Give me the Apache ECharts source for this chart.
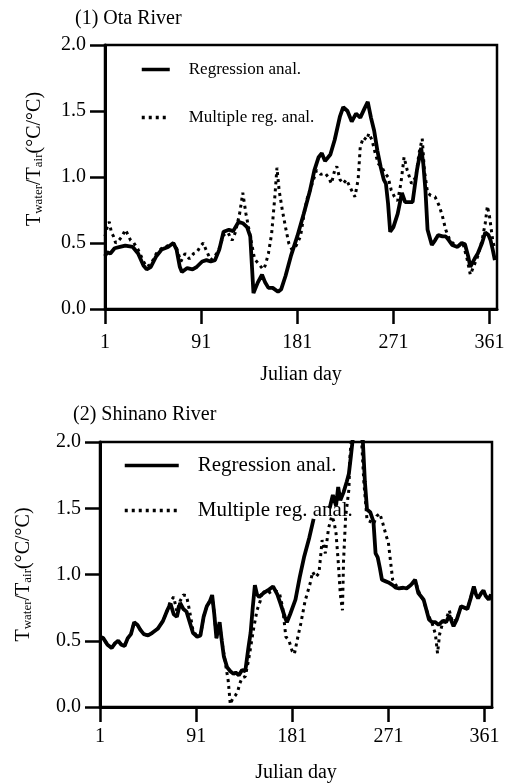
<!DOCTYPE html>
<html>
<head>
<meta charset="utf-8">
<script src="https://cdn.jsdelivr.net/npm/echarts@6/dist/echarts.min.js"></script>
<style>
  html, body { margin: 0; padding: 0; background: #fff; }
  #chart { width: 506px; height: 783px; }
</style>
</head>
<body>
<div id="chart"></div>
<script>
// tick labels
var dayTicks = [1, 91, 181, 271, 361];

// (1) Ota River - regression analysis
var otaRegDays = [1, 3, 6, 10, 15, 20, 27, 32, 37, 40, 44, 49, 54, 60, 65, 68, 71, 73, 78, 83, 87, 92, 96, 100, 104, 108, 112, 117, 121, 126, 130, 134, 137, 140, 144, 148, 151, 154, 158, 163, 166, 170, 175, 181, 187, 193, 197, 201, 204, 207, 212, 216, 221, 224, 228, 232, 236, 240, 244, 247, 250, 253, 256, 259, 262, 264, 266, 268, 271, 275, 279, 282, 286, 289, 293, 297, 299, 301, 303, 307, 310, 313, 317, 320, 323, 326, 331, 335, 338, 341, 343, 347, 350, 354, 357, 360, 362, 364, 366];
var otaRegValues = [0.40, 0.43, 0.42, 0.46, 0.47, 0.48, 0.47, 0.42, 0.33, 0.30, 0.32, 0.40, 0.45, 0.47, 0.50, 0.45, 0.32, 0.28, 0.31, 0.30, 0.32, 0.36, 0.37, 0.36, 0.37, 0.45, 0.585, 0.60, 0.59, 0.66, 0.65, 0.62, 0.55, 0.12, 0.20, 0.26, 0.20, 0.16, 0.16, 0.13, 0.15, 0.25, 0.40, 0.55, 0.72, 0.90, 1.05, 1.15, 1.18, 1.12, 1.17, 1.28, 1.46, 1.53, 1.50, 1.42, 1.48, 1.45, 1.52, 1.57, 1.45, 1.35, 1.20, 1.08, 0.98, 0.95, 0.80, 0.585, 0.62, 0.72, 0.88, 0.81, 0.81, 0.81, 1.05, 1.22, 1.10, 0.90, 0.60, 0.485, 0.52, 0.56, 0.55, 0.55, 0.52, 0.485, 0.47, 0.50, 0.49, 0.40, 0.32, 0.38, 0.42, 0.50, 0.58, 0.56, 0.52, 0.45, 0.37];

// (1) Ota River - multiple regression analysis
var otaMultiDays = [1, 3, 5, 7, 9, 11, 14, 17, 20, 22, 25, 28, 32, 37, 40, 44, 49, 54, 60, 65, 68, 72, 76, 80, 84, 87, 90, 93, 96, 100, 104, 108, 112, 116, 120, 123, 127, 130, 133, 137, 141, 145, 149, 151, 154, 157, 160, 162, 164, 167, 170, 173, 176, 180, 184, 187, 190, 195, 199, 203, 207, 210, 213, 216, 218, 221, 224, 227, 230, 233, 235, 238, 240, 243, 246, 248, 251, 254, 257, 260, 263, 266, 269, 272, 275, 278, 281, 284, 288, 292, 295, 298, 300, 303, 306, 310, 314, 317, 320, 324, 328, 332, 336, 340, 343, 346, 350, 354, 357, 359, 361, 364, 366];
var otaMultiValues = [0.55, 0.62, 0.66, 0.58, 0.55, 0.50, 0.52, 0.55, 0.60, 0.57, 0.52, 0.50, 0.45, 0.36, 0.32, 0.34, 0.42, 0.46, 0.48, 0.50, 0.46, 0.36, 0.42, 0.38, 0.42, 0.43, 0.47, 0.50, 0.44, 0.37, 0.40, 0.46, 0.56, 0.58, 0.52, 0.58, 0.72, 0.88, 0.72, 0.55, 0.38, 0.34, 0.30, 0.33, 0.42, 0.57, 0.85, 1.07, 0.90, 0.75, 0.62, 0.50, 0.45, 0.48, 0.55, 0.70, 0.83, 0.95, 1.05, 1.02, 1.03, 1.00, 0.95, 1.05, 1.08, 0.98, 0.95, 0.98, 0.93, 0.88, 0.85, 0.98, 1.23, 1.30, 1.28, 1.33, 1.28, 1.18, 1.10, 1.08, 1.03, 1.00, 0.90, 0.85, 0.82, 0.95, 1.15, 1.05, 0.95, 1.00, 1.18, 1.29, 1.05, 0.88, 0.86, 0.85, 0.78, 0.70, 0.60, 0.52, 0.49, 0.48, 0.50, 0.38, 0.26, 0.32, 0.40, 0.52, 0.65, 0.78, 0.70, 0.52, 0.45];

// (2) Shinano River - regression analysis (null = break in the drawn line)
var shinanoRegDays = [1, 4, 8, 12, 15, 18, 21, 24, 27, 30, 33, 36, 39, 42, 46, 50, 55, 60, 64, 67, 70, 73, 76, 79, 82, 85, 88, 92, 95, 98, 101, 104, 106, 108, 110, 112, 113, 115, 117, 120, 123, 126, 128, 131, 134, 137, 140, 142, 144, 146, 148, 150, 154, 158, 163, 167, 170, 174, 176, 179, 184, 188, 192, 197, 201, 208, 216, 219, 222, 224, 226, 229, 232, 234, 236, 238, 241, 244, 247, 249, 251, 254, 257, 259, 261, 263, 265, 268, 271, 275, 278, 281, 285, 288, 292, 296, 299, 302, 304, 307, 309, 312, 315, 318, 322, 325, 328, 332, 335, 339, 342, 345, 348, 351, 353, 355, 358, 360, 362, 365, 367];
var shinanoRegValues = [0.53, 0.52, 0.47, 0.445, 0.48, 0.50, 0.47, 0.46, 0.52, 0.55, 0.64, 0.62, 0.58, 0.55, 0.54, 0.56, 0.59, 0.65, 0.73, 0.78, 0.70, 0.68, 0.785, 0.74, 0.72, 0.64, 0.56, 0.53, 0.54, 0.68, 0.76, 0.80, 0.845, 0.70, 0.52, 0.60, 0.64, 0.50, 0.38, 0.30, 0.27, 0.25, 0.26, 0.24, 0.28, 0.27, 0.45, 0.56, 0.75, 0.92, 0.85, 0.83, 0.86, 0.88, 0.91, 0.85, 0.78, 0.68, 0.64, 0.70, 0.81, 0.98, 1.13, 1.28, 1.42, null, 1.50, 1.60, 1.52, 1.66, 1.56, 1.62, 1.70, 1.76, 1.90, 2.05, 2.30, 2.20, 2.02, 1.70, 1.49, 1.47, 1.40, 1.16, 1.13, 1.05, 0.96, 0.95, 0.94, 0.92, 0.90, 0.895, 0.90, 0.895, 0.92, 0.96, 0.86, 0.83, 0.81, 0.72, 0.66, 0.64, 0.64, 0.62, 0.65, 0.64, 0.69, 0.61, 0.66, 0.76, 0.75, 0.74, 0.82, 0.91, 0.85, 0.82, 0.86, 0.88, 0.84, 0.81, 0.85];

// (2) Shinano River - multiple regression analysis
var shinanoMultiDays = [1, 4, 8, 12, 15, 18, 21, 24, 27, 30, 33, 36, 39, 42, 46, 50, 55, 60, 64, 67, 70, 73, 76, 79, 82, 85, 88, 92, 95, 98, 101, 104, 106, 108, 110, 113, 116, 119, 121, 123, 125, 128, 130, 132, 134, 137, 140, 142, 145, 148, 151, 153, 157, 161, 165, 169, 172, 175, 178, 181, 183, 186, 189, 193, 198, 200, 203, 206, 209, 212, 215, 218, 220, 222, 224, 226, 228, 229, 231, 234, 235, 237, 240, 243, 246, 248, 251, 254, 257, 260, 263, 266, 269, 271, 273, 275, 278, 281, 285, 288, 292, 296, 300, 304, 308, 312, 315, 317, 319, 322, 325, 328, 331, 335, 339, 342, 345, 348, 351, 353, 355, 358, 360, 362, 365, 367];
var shinanoMultiValues = [0.53, 0.52, 0.47, 0.445, 0.48, 0.50, 0.47, 0.46, 0.52, 0.55, 0.64, 0.62, 0.58, 0.55, 0.54, 0.56, 0.59, 0.65, 0.73, 0.80, 0.83, 0.72, 0.80, 0.845, 0.84, 0.72, 0.58, 0.53, 0.54, 0.68, 0.76, 0.80, 0.84, 0.70, 0.52, 0.62, 0.45, 0.30, 0.20, 0.02, 0.06, 0.09, 0.12, 0.18, 0.22, 0.23, 0.35, 0.45, 0.60, 0.73, 0.80, 0.88, 0.85, 0.87, 0.88, 0.86, 0.75, 0.53, 0.50, 0.42, 0.40, 0.52, 0.63, 0.80, 0.94, 1.02, 0.98, 1.01, 1.26, 1.16, 1.35, 1.44, 1.40, 1.31, 1.10, 0.85, 0.73, 1.10, 1.44, 1.64, 1.89, 2.10, 2.40, 2.30, 2.00, 1.70, 1.41, 1.40, 1.38, 1.44, 1.46, 1.38, 1.29, 1.24, 1.10, 0.96, 0.92, 0.895, 0.90, 0.895, 0.92, 0.95, 0.86, 0.80, 0.70, 0.63, 0.55, 0.405, 0.55, 0.64, 0.66, 0.73, 0.64, 0.66, 0.76, 0.75, 0.74, 0.82, 0.91, 0.85, 0.82, 0.86, 0.88, 0.84, 0.81, 0.85];

function pairs(days, values) {
  return days.map(function (d, i) {
    return [d, values[i] == null ? '-' : values[i]];
  });
}

var FONT = '"Liberation Serif", "DejaVu Serif", serif';

var yName = '{m|T}{s|water}{m|/T}{s|air}{m|(°C/°C)}';
var yNameRich = {
  m: { fontFamily: FONT, fontSize: 20, color: '#000', lineHeight: 20, verticalAlign: 'top' },
  s: { fontFamily: FONT, fontSize: 13, color: '#000', lineHeight: 13, padding: [17, 0, 0, 0], verticalAlign: 'bottom' }
};

function xAxisOpt(gridIndex, labelMargin) {
  return {
    type: 'value',
    gridIndex: gridIndex,
    min: 1,
    max: 368,
    interval: 90,
    name: 'Julian day',
    nameLocation: 'middle',
    nameGap: 56,
    nameTextStyle: { fontFamily: FONT, fontSize: 20, color: '#000' },
    axisLine: { lineStyle: { color: '#000', width: 3 } },
    axisTick: { length: 15, lineStyle: { color: '#000', width: 2.5 }, customValues: dayTicks },
    axisLabel: { margin: labelMargin, fontFamily: FONT, fontSize: 20, color: '#000', customValues: dayTicks },
    splitLine: { show: false }
  };
}

function yAxisOpt(gridIndex, nameGap, namePad) {
  return {
    type: 'value',
    gridIndex: gridIndex,
    min: 0,
    max: 2,
    interval: 0.5,
    name: yName,
    nameLocation: 'middle',
    nameRotate: 90,
    nameGap: nameGap,
    nameTextStyle: { rich: yNameRich, padding: namePad },
    axisLine: { show: true, lineStyle: { color: '#000', width: 3 } },
    axisTick: { show: true, length: 15, lineStyle: { color: '#000', width: 2.5 } },
    axisLabel: {
      margin: 19, fontFamily: FONT, fontSize: 20, color: '#000',
      formatter: function (v) { return v.toFixed(1); }
    },
    splitLine: { show: false }
  };
}

var solid = { color: '#000', width: 3.8, type: 'solid' };
var dotted = { color: '#000', width: 3, type: [3, 4] };

function lineSeries(name, x, y, data, style) {
  return {
    name: name,
    type: 'line',
    xAxisIndex: x,
    yAxisIndex: y,
    data: data,
    showSymbol: false,
    symbol: 'none',
    color: '#000',
    lineStyle: style,
    connectNulls: false
  };
}

var chart = echarts.init(document.getElementById('chart'), null, { renderer: 'canvas' });
chart.setOption({
  animation: false,
  backgroundColor: '#fff',
  title: [
    { text: '(1) Ota River', left: 70, top: 4, textStyle: { fontFamily: FONT, fontSize: 20, fontWeight: 'normal', color: '#000' } },
    { text: '(2) Shinano River', left: 68, top: 400, textStyle: { fontFamily: FONT, fontSize: 20, fontWeight: 'normal', color: '#000' } }
  ],
  legend: [
    {
      left: 135, top: 56, orient: 'vertical', itemGap: 31, itemWidth: 28, itemHeight: 20,
      data: ['Regression anal.', 'Multiple reg. anal.'],
      itemStyle: { opacity: 0 },
      lineStyle: { width: 3.5 },
      textStyle: { fontFamily: FONT, fontSize: 17, color: '#000', padding: [0, 0, 0, 14] },
      selectedMode: false
    },
    {
      left: 118, top: 450, orient: 'vertical', itemGap: 24, itemWidth: 54, itemHeight: 24,
      data: ['Regression anal.', 'Multiple reg. anal.'],
      itemStyle: { opacity: 0 },
      lineStyle: { width: 3.5 },
      textStyle: { fontFamily: FONT, fontSize: 21, color: '#000', padding: [0, 0, 0, 14] },
      selectedMode: false
    }
  ],
  grid: [
    { left: 105, top: 45, width: 392, height: 264, show: true, borderColor: '#000', borderWidth: 2.5, backgroundColor: 'transparent', outerBoundsMode: 'none' },
    { left: 100, top: 442, width: 392, height: 265, show: true, borderColor: '#000', borderWidth: 2.5, backgroundColor: 'transparent', outerBoundsMode: 'none' }
  ],
  xAxis: [xAxisOpt(0, 24), xAxisOpt(1, 20)],
  yAxis: [yAxisOpt(0, 60, [0, 0, 0, 36]), yAxisOpt(1, 66, [0, 0, 0, 0])],
  series: [
    lineSeries('Multiple reg. anal.', 0, 0, pairs(otaMultiDays, otaMultiValues), dotted),
    lineSeries('Regression anal.', 0, 0, pairs(otaRegDays, otaRegValues), solid),
    lineSeries('Multiple reg. anal.', 1, 1, pairs(shinanoMultiDays, shinanoMultiValues), dotted),
    lineSeries('Regression anal.', 1, 1, pairs(shinanoRegDays, shinanoRegValues), solid)
  ]
});
</script>
</body>
</html>
